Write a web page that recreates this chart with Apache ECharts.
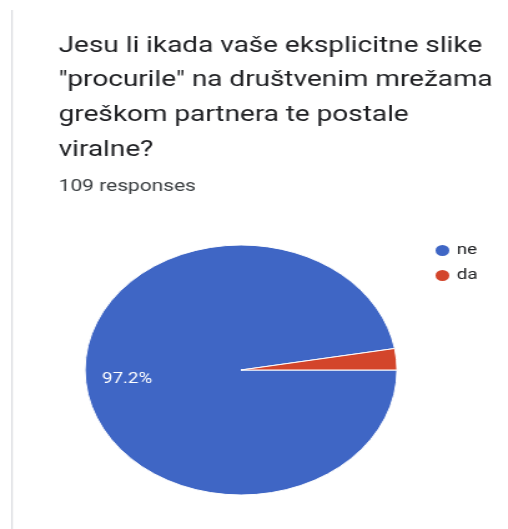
<!DOCTYPE html>
<html>
<head>
<meta charset="utf-8">
<script src="https://cdn.jsdelivr.net/npm/echarts@6/dist/echarts.min.js"></script>
<style>
html,body{margin:0;padding:0;background:#fff;overflow:hidden;width:508px;height:529px;}
#c{width:407px;height:529px;transform:scaleX(1.248);transform-origin:0 0;}
</style>
</head>
<body>
<div id="c"></div>
<script>
const titleLines = ['Jesu li ikada vaše eksplicitne slike', '"procurile" na društvenim mrežama', 'greškom partnera te postale', 'viralne?'];
const responsesText = '109 responses';
const categories = ['ne', 'da'];
const counts = [106, 3];
const colors = ['#3f66c5', '#d3452b'];
const total = counts.reduce(function (a, b) { return a + b; }, 0);

const chart = echarts.init(document.getElementById('c'), null, {renderer: 'canvas'});
chart.setOption({
  animation: false,
  backgroundColor: '#fff',
  title: [
    {
      text: titleLines.join('\n'),
      left: 42, top: 24,
      textStyle: {fontFamily: 'Roboto', fontSize: 22.4, fontWeight: 'normal', color: '#202124', lineHeight: 34.6}
    },
    {
      text: responsesText,
      left: 42, top: 173,
      textStyle: {fontFamily: 'Roboto', fontSize: 16.8, fontWeight: 'normal', color: '#3c4043'}
    }
  ],
  graphic: [{
    type: 'line', shape: {x1: 9.6, y1: 10, x2: 9.6, y2: 529},
    style: {stroke: '#dadce0', lineWidth: 1.2}
  }],
  legend: {
    orient: 'vertical', left: 342, top: 238,
    icon: 'circle', itemWidth: 13, itemHeight: 13, itemGap: 10,
    textStyle: {fontFamily: 'Roboto', fontSize: 15, color: '#202124'},
    data: categories
  },
  series: [{
    type: 'pie',
    center: [193.1, 370],
    radius: 125,
    startAngle: 0,
    clockwise: true,
    color: colors,
    itemStyle: {borderColor: '#fff', borderWidth: 1},
    label: {
      show: true, position: 'inside',
      fontFamily: 'Roboto', fontSize: 15, color: '#fff',
      formatter: function (p) {
        const pct = p.value / total * 100;
        return pct >= 5 ? pct.toFixed(1) + '%' : '';
      }
    },
    labelLayout: function (p) { return p.dataIndex === 0 ? {dx: -26, dy: 4} : {}; },
    emphasis: {disabled: true},
    data: categories.map(function (c, i) { return {name: c, value: counts[i]}; })
  }]
});
</script>
</body>
</html>
